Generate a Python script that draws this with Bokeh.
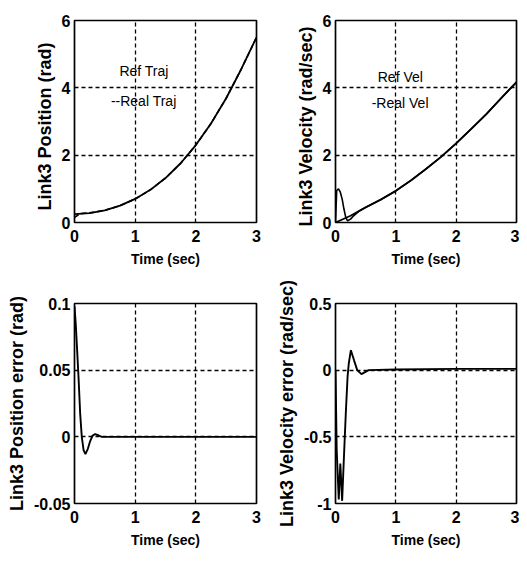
from bokeh.plotting import figure
from bokeh.layouts import gridplot
from bokeh.models import FixedTicker, Label, Range1d
from bokeh.embed import file_html
from bokeh.resources import INLINE

# ---------------- data ----------------
x_ticks = [0, 1, 2, 3]

t_ref = [0, 0.25, 0.5, 0.75, 1.0, 1.25, 1.5, 1.75, 2.0, 2.25, 2.5, 2.75, 3.0]
pos_ref = [0.25, 0.28, 0.36, 0.5, 0.7, 0.97, 1.32, 1.76, 2.3, 2.94, 3.69, 4.56, 5.5]
vel_ref = [0, 0.2, 0.45, 0.68, 0.94, 1.25, 1.59, 1.95, 2.35, 2.78, 3.22, 3.7, 4.17]

t_real_pos = [0, 0.04, 0.07, 0.1, 0.15, 0.2, 0.3, 0.5, 0.75, 1.0, 1.25, 1.5,
              1.75, 2.0, 2.25, 2.5, 2.75, 3.0]
real_pos = [0.15, 0.2, 0.24, 0.26, 0.275, 0.28, 0.3, 0.36, 0.5, 0.7, 0.97, 1.32,
            1.76, 2.3, 2.94, 3.69, 4.56, 5.5]

t_real_vel = [0, 0.02, 0.05, 0.08, 0.11, 0.14, 0.17, 0.2, 0.25, 0.3, 0.4, 0.5,
              0.75, 1.0, 1.25, 1.5, 1.75, 2.0, 2.25, 2.5, 2.75, 3.0]
real_vel = [0, 0.95, 1.0, 0.9, 0.7, 0.4, 0.15, 0.05, 0.1, 0.2, 0.35, 0.45,
            0.68, 0.94, 1.25, 1.59, 1.95, 2.35, 2.78, 3.22, 3.7, 4.17]

t_pos_err = [0, 0.02, 0.04, 0.066, 0.094, 0.12, 0.15, 0.18, 0.22, 0.26, 0.3,
             0.34, 0.4, 0.45, 0.6, 1.0, 2.0, 3.0]
pos_err = [0.098, 0.085, 0.068, 0.045, 0.017, 0.0, -0.01, -0.013, -0.009,
           -0.003, 0.001, 0.002, 0.001, 0.0, 0.0, 0.0, 0.0, 0.0]

t_vel_err = [0, 0.02, 0.054, 0.08, 0.11, 0.14, 0.17, 0.2, 0.22, 0.255, 0.31,
             0.36, 0.43, 0.55, 1.0, 2.0, 3.0]
vel_err = [0, -0.6, -0.97, -0.7, -0.98, -0.65, -0.33, -0.05, 0.05, 0.15, 0.07,
           0.0, -0.03, 0.0, 0.005, 0.01, 0.01]

pos_ticks = [0, 2, 4, 6]
vel_ticks = [0, 2, 4, 6]
pe_ticks = [-0.05, 0, 0.05, 0.1]
pe_labels = ["-0.05", "0", "0.05", "0.1"]
ve_ticks = [-1, -0.5, 0, 0.5]
ve_labels = ["-1", "-0.5", "0", "0.5"]

FONT = "Liberation Sans"


def make(ylabel, yr, yticks, ylabels, bl, bt, br, bb, fw, fh):
    p = figure(frame_width=fw, frame_height=fh,
               x_range=Range1d(0, 3), y_range=Range1d(*yr),
               output_backend="svg", toolbar_location=None,
               min_border_left=bl, min_border_top=bt,
               min_border_right=br, min_border_bottom=bb)
    p.background_fill_color = "white"
    p.border_fill_color = "white"
    p.outline_line_color = "black"
    p.outline_line_width = 1.7
    p.outline_line_alpha = 1.0
    p.xaxis.ticker = FixedTicker(ticks=x_ticks)
    p.yaxis.ticker = FixedTicker(ticks=yticks)
    if ylabels:
        p.yaxis.major_label_overrides = {t: l for t, l in zip(yticks, ylabels)}
    p.xaxis.axis_label = "Time (sec)"
    p.yaxis.axis_label = ylabel
    for ax in (p.xaxis[0], p.yaxis[0]):
        ax.axis_line_color = None
        ax.major_tick_in = 0
        ax.major_tick_out = 0
        ax.minor_tick_line_color = None
        ax.major_label_text_font = FONT
        ax.major_label_text_font_size = "16px"
        ax.major_label_text_font_style = "bold"
        ax.major_label_text_color = "black"
        ax.axis_label_text_color = "black"
        ax.axis_label_text_font = FONT
        ax.axis_label_text_font_style = "bold"
    p.xaxis.major_label_standoff = 7
    p.yaxis.major_label_standoff = 4
    p.xaxis.axis_label_text_font_size = "14px"
    p.xaxis.axis_label_standoff = 6
    p.yaxis.axis_label_text_font_size = "18px"
    p.yaxis.axis_label_standoff = 4
    for g in (p.xgrid[0], p.ygrid[0]):
        g.grid_line_color = "black"
        g.grid_line_dash = "4 3"
        g.grid_line_width = 1.3
        g.grid_line_alpha = 1.0
    return p


def note(p, x, y, s):
    p.add_layout(Label(x=x, y=y, text=s, text_font=FONT, text_font_size="14px",
                       text_baseline="middle", text_color="black"))


p1 = make("Link3  Position  (rad)", (0, 6), pos_ticks, None, 74, 20, 6, 56, 182, 202)
p1.line(t_ref, pos_ref, line_color="black", line_width=1.8)
p1.line(t_real_pos, real_pos, line_color="black", line_width=1.6, line_dash="5 3")
note(p1, 0.74, 4.5, "Ref Traj")
note(p1, 0.6, 3.6, "--Real Traj")

p2 = make("Link3  Velocity  (rad/sec)", (0, 6), vel_ticks, None, 73, 20, 3, 56, 181, 202)
p2.line(t_ref, vel_ref, line_color="black", line_width=1.8)
p2.line(t_real_vel, real_vel, line_color="black", line_width=1.6)
note(p2, 0.7, 4.32, "Ref Vel")
note(p2, 0.6, 3.55, "-Real Vel")

p3 = make("Link3 Position error (rad)", (-0.05, 0.1), pe_ticks, pe_labels,
          74, 25, 6, 50, 182, 200)
p3.line(t_pos_err, pos_err, line_color="black", line_width=1.9)

p4 = make("Link3 Velocity error (rad/sec)", (-1, 0.5), ve_ticks, ve_labels,
          73, 25, 3, 50, 181, 200)
p4.line(t_vel_err, vel_err, line_color="black", line_width=1.9)

grid = gridplot([[p1, p2], [p3, p4]], toolbar_location=None)

open("out.html", "w").write(file_html(grid, INLINE))
